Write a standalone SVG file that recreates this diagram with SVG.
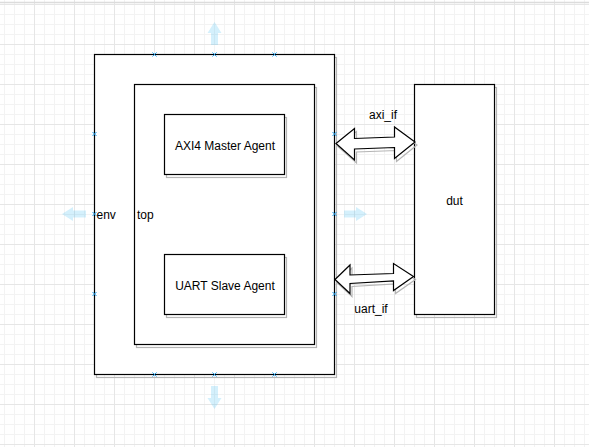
<svg xmlns="http://www.w3.org/2000/svg" width="589" height="447" viewBox="0 0 589 447">
<style>
.box{fill:#fff;stroke:#000;stroke-width:1.2}
.shadow{fill:none;stroke:#b5b5b5;stroke-width:1.2}
.lbl{font-family:"Liberation Sans",Arial,sans-serif;font-size:12px;fill:#000}
.mid{text-anchor:middle}
.cp{stroke:#1e9be8;stroke-width:1;fill:none}
.hover{fill:#29b6f2;fill-opacity:0.2}
</style>
<defs>
<pattern id="grid" patternUnits="userSpaceOnUse" x="34" y="4" width="40" height="40">
<path d="M10.5 0V40M20.5 0V40M30.5 0V40M0 10.5H40M0 20.5H40M0 30.5H40" stroke="#f3f3f3" stroke-width="1"/>
<path d="M0.5 0V40M0 0.5H40" stroke="#e6e6e6" stroke-width="1"/>
</pattern>
<g id="cpx"><path class="cp" d="M-2-2L2 2M2-2L-2 2"/></g>
</defs>
<rect width="589" height="447" fill="#fff"/>
<rect width="589" height="447" fill="url(#grid)"/>
<line x1="0" y1="2.5" x2="589" y2="2.5" stroke="#dcdcdc" stroke-width="1.5"/>

<g id="env">
<rect class="shadow" x="96.5" y="57.5" width="240" height="320"/>
<rect class="box" x="94.5" y="54.5" width="240" height="320"/>
<text class="lbl" x="96.5" y="219">env</text>
</g>
<g id="top">
<rect class="shadow" x="136.5" y="87.5" width="180" height="260"/>
<rect class="box" x="134.5" y="84.5" width="180" height="260"/>
<text class="lbl" x="137" y="219">top</text>
</g>
<g id="axi4_master_agent">
<rect class="shadow" x="166.5" y="117.5" width="120" height="60"/>
<rect class="box" x="164.5" y="114.5" width="120" height="60"/>
<text class="lbl mid" x="225" y="150">AXI4 Master Agent</text>
</g>
<g id="uart_slave_agent">
<rect class="shadow" x="166.5" y="257.5" width="120" height="60"/>
<rect class="box" x="164.5" y="254.5" width="120" height="60"/>
<text class="lbl mid" x="225" y="290">UART Slave Agent</text>
</g>
<g id="dut">
<rect class="shadow" x="416.5" y="87.5" width="80" height="230"/>
<rect class="box" x="414.5" y="84.5" width="80" height="230"/>
<text class="lbl mid" x="454.5" y="205">dut</text>
</g>

<g id="connectors">
<g id="axi_if">
<polygon transform="translate(2,3)" points="336,143.5 354.5,128.5 354.5,138.5 394.5,137 394.5,127 415,142 394.5,158.5 394.5,147.5 354.5,149 354.5,160" fill="none" stroke="#b5b5b5" stroke-width="1.2"/>
<polygon points="336,143.5 354.5,128.5 354.5,138.5 394.5,137 394.5,127 415,142 394.5,158.5 394.5,147.5 354.5,149 354.5,160" fill="#fff" stroke="#000" stroke-width="1.2"/>
<text class="lbl mid" x="383" y="118.5">axi_if</text>
</g>
<g id="uart_if">
<polygon transform="translate(2,3)" points="335,279.5 350,265 350,275 393.5,273.5 393.5,263.5 413.5,276.5 393.5,290.5 393.5,281 350,283.5 350,293.5" fill="none" stroke="#b5b5b5" stroke-width="1.2"/>
<polygon points="335,279.5 350,265 350,275 393.5,273.5 393.5,263.5 413.5,276.5 393.5,290.5 393.5,281 350,283.5 350,293.5" fill="#fff" stroke="#000" stroke-width="1.2"/>
<text class="lbl mid" x="371" y="313">uart_if</text>
</g>
</g>

<g id="selection">
<use href="#cpx" x="154.5" y="54.5"/>
<use href="#cpx" x="214.5" y="54.5"/>
<use href="#cpx" x="274.5" y="54.5"/>
<use href="#cpx" x="154.5" y="374.5"/>
<use href="#cpx" x="214.5" y="374.5"/>
<use href="#cpx" x="274.5" y="374.5"/>
<use href="#cpx" x="94.5" y="134"/>
<use href="#cpx" x="94.5" y="214"/>
<use href="#cpx" x="94.5" y="294"/>
<use href="#cpx" x="334.5" y="134"/>
<use href="#cpx" x="334.5" y="214"/>
<use href="#cpx" x="334.5" y="294"/>
<polygon class="hover" points="214.5,22 221.5,33 218,33 218,45 211,45 211,33 207.5,33"/>
<polygon class="hover" points="214.5,409 221.5,398 218,398 218,386 211,386 211,398 207.5,398"/>
<polygon class="hover" points="62,214 73,207 73,210.5 86,210.5 86,217.5 73,217.5 73,221"/>
<polygon class="hover" points="367,214 356,207 356,210.5 344,210.5 344,217.5 356,217.5 356,221"/>
</g>
</svg>
